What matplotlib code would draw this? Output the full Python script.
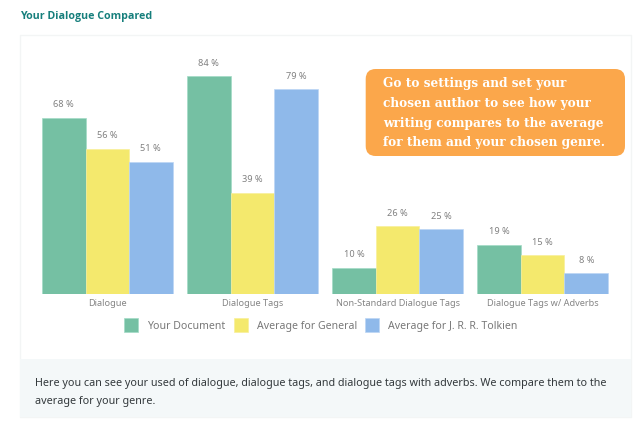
import matplotlib
matplotlib.use("Agg")
import matplotlib.pyplot as plt
from matplotlib.patches import FancyBboxPatch, Rectangle
import numpy as np

categories = ["Dialogue", "Dialogue Tags", "Non-Standard Dialogue Tags", "Dialogue Tags w/ Adverbs"]
series_names = ["Your Document", "Average for General", "Average for J. R. R. Tolkien"]
your_document = [68, 84, 10, 19]
average_general = [56, 39, 26, 15]
average_tolkien = [51, 79, 25, 8]
colors = ["#75c0a3", "#f4e96d", "#8fb9ea"]
edges = ["#a3dcc6", "#f8f09a", "#bcd6f5"]

W, H = 640, 427
fig = plt.figure(figsize=(W / 100, H / 100), dpi=100, facecolor="#ffffff")

# page furniture, drawn in pixel coordinates
bg = fig.add_axes([0, 0, 1, 1])
bg.set_xlim(0, W)
bg.set_ylim(H, 0)
bg.axis("off")
bg.add_patch(Rectangle((19.5, 36), 611, 382, fc="#ffffff", ec="#f3f5f5", lw=1.0))
bg.add_patch(Rectangle((20, 360), 610.5, 58, fc="#f4f8f9", ec="none"))
bg.text(20, 16, "Your Dialogue Compared", color="#167f7c", fontsize=7.7,
        fontweight="bold", family="Open Sans", va="center")
bg.text(35, 384, "Here you can see your used of dialogue, dialogue tags, and dialogue tags "
        "with adverbs. We compare them to the", color="#33393c", fontsize=7.77,
        family="Noto Sans", va="center")
bg.text(35, 402, "average for your genre.", color="#33393c", fontsize=7.77,
        family="Noto Sans", va="center")

# bars
ax = fig.add_axes([34.7 / W, (H - 294.7) / H, 580.6 / W, 258.7 / H])
ax.patch.set_alpha(0)
x = np.arange(len(categories))
width = 0.3
all_values = [your_document, average_general, average_tolkien]
for i, values in enumerate(all_values):
    pos = x + (i - 1) * width
    ax.bar(pos, values, width, color=colors[i], edgecolor=edges[i], linewidth=0.5)
    for px, v in zip(pos, values):
        ax.annotate(f"{v} %", (px, v), xytext=(0, 10), textcoords="offset points",
                    ha="center", va="center", fontsize=6.6, color="#808080",
                    family="Noto Sans")
ax.set_xlim(-0.5, 3.5)
ax.set_ylim(0, 100)
ax.set_xticks(x)
ax.set_xticklabels(categories, fontsize=6.6, color="#858585", family="Noto Sans")
ax.tick_params(axis="x", length=0, pad=3.2)
ax.set_yticks([])
for s in ax.spines.values():
    s.set_visible(False)

# legend
legend_boxes = [124, 234, 365]
legend_text = [147, 257, 388]
for i, name in enumerate(series_names):
    bg.add_patch(Rectangle((legend_boxes[i], 319), 14, 14, fc=colors[i], ec=edges[i], lw=0.5))
    bg.text(legend_text[i], 327, name, color="#787878", fontsize=7.6,
            family="Noto Sans", va="center")

# orange callout
overlay = fig.add_axes([0, 0, 1, 1])
overlay.set_xlim(0, W)
overlay.set_ylim(H, 0)
overlay.axis("off")
box = FancyBboxPatch((375.7, 80), 239.3, 67, boxstyle="round,pad=10,rounding_size=10",
                     fc="#fba74b", ec="none", zorder=5)
overlay.add_patch(box)
lines = ["Go to settings and set your", "chosen author to see how your",
         "writing compares to the average", "for them and your chosen genre."]
for i, line in enumerate(lines):
    overlay.text(383, 83 + i * 20, line, color="#ffffff", fontsize=8.7, fontweight="bold",
                 family="DejaVu Serif", va="center", zorder=6)

fig.savefig("out.png", dpi=100)
